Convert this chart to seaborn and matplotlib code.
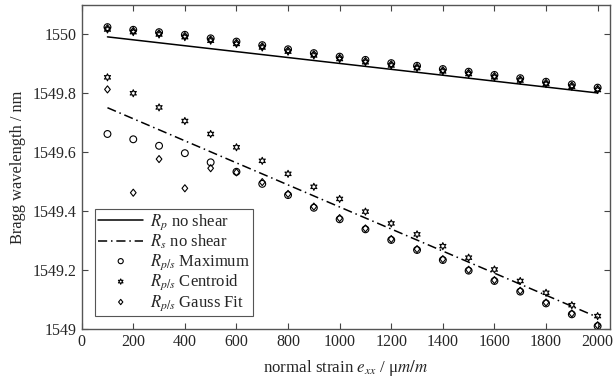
import matplotlib
matplotlib.use("Agg")
import matplotlib.pyplot as plt
import seaborn as sns
import numpy as np
from matplotlib.ticker import FuncFormatter
from matplotlib.path import Path

# ---- data ----
line_x = [100, 2000]
rp_line = [1549.99, 1549.80]
rs_line = [1549.75, 1549.04]

strain = [100, 200, 300, 400, 500, 600, 700, 800, 900, 1000,
          1100, 1200, 1300, 1400, 1500, 1600, 1700, 1800, 1900, 2000]

# p-polarisation (upper group)
p_max = [1550.023, 1550.014, 1550.006, 1549.997, 1549.985, 1549.974, 1549.962, 1549.948, 1549.935, 1549.923,
         1549.912, 1549.901, 1549.892, 1549.881, 1549.872, 1549.861, 1549.850, 1549.838, 1549.829, 1549.818]
p_cen = [1550.015, 1550.006, 1549.998, 1549.989, 1549.977, 1549.966, 1549.954, 1549.940, 1549.927, 1549.915,
         1549.904, 1549.893, 1549.884, 1549.873, 1549.864, 1549.853, 1549.842, 1549.830, 1549.821, 1549.810]
p_gau = [1550.019, 1550.010, 1550.002, 1549.993, 1549.981, 1549.970, 1549.958, 1549.944, 1549.931, 1549.919,
         1549.908, 1549.897, 1549.888, 1549.877, 1549.868, 1549.857, 1549.846, 1549.834, 1549.825, 1549.814]

# s-polarisation (lower group)
s_max = [1549.661, 1549.643, 1549.621, 1549.596, 1549.565, 1549.533, 1549.492, 1549.454, 1549.411, 1549.372,
         1549.338, 1549.302, 1549.268, 1549.234, 1549.198, 1549.163, 1549.127, 1549.087, 1549.050, 1549.010]
s_cen = [1549.853, 1549.799, 1549.751, 1549.705, 1549.661, 1549.616, 1549.570, 1549.526, 1549.482, 1549.441,
         1549.398, 1549.358, 1549.321, 1549.281, 1549.242, 1549.202, 1549.163, 1549.123, 1549.081, 1549.044]
s_gau = [1549.812, 1549.462, 1549.576, 1549.477, 1549.545, 1549.531, 1549.498, 1549.458, 1549.415, 1549.376,
         1549.341, 1549.305, 1549.271, 1549.237, 1549.201, 1549.166, 1549.130, 1549.090, 1549.053, 1549.013]

xticks = list(range(0, 2001, 200))
yticks = [1549.0, 1549.2, 1549.4, 1549.6, 1549.8, 1550.0]

# ---- style ----
sns.set_style("ticks")
plt.rcParams["font.family"] = ["Liberation Serif", "DejaVu Serif"]
plt.rcParams["mathtext.fontset"] = "stix"
plt.rcParams["font.size"] = 11

diamond = Path([(0, 1), (0.8, 0), (0, -1), (-0.8, 0), (0, 1)],
               [Path.MOVETO, Path.LINETO, Path.LINETO, Path.LINETO, Path.CLOSEPOLY])
star6 = (6, 1, 0)

fig = plt.figure(figsize=(6.14, 3.84), dpi=100)
ax = fig.add_axes([0.133, 0.143, 0.8605, 0.844])

lw = 1.1
sns.lineplot(x=line_x, y=rp_line, ax=ax, color="black", linewidth=lw,
             label=r"$R_p$ no shear")
sns.lineplot(x=line_x, y=rs_line, ax=ax, color="black", linewidth=lw,
             linestyle=(0, (6, 2.5, 1, 2.5)), label=r"$R_s$ no shear")

mk = dict(facecolor="none", edgecolor="black", linewidth=0.8, ax=ax)
sns.scatterplot(x=strain, y=p_max, marker="o", s=24, **mk, label=r"$R_{p/s}$ Maximum")
sns.scatterplot(x=strain, y=p_cen, marker=star6, s=26, **mk, label=r"$R_{p/s}$ Centroid")
sns.scatterplot(x=strain, y=p_gau, marker=diamond, s=26, **mk, label=r"$R_{p/s}$ Gauss Fit")
sns.scatterplot(x=strain, y=s_max, marker="o", s=24, **mk)
sns.scatterplot(x=strain, y=s_cen, marker=star6, s=26, **mk)
sns.scatterplot(x=strain, y=s_gau, marker=diamond, s=26, **mk)

ax.set_xlim(0, 2048)
ax.set_ylim(1549.0, 1550.098)
ax.set_xticks(xticks)
ax.set_yticks(yticks)
ax.yaxis.set_major_formatter(FuncFormatter(lambda v, p: f"{round(v, 1):g}"))
ax.tick_params(direction="in", top=True, right=True, length=4, width=0.8,
               color="#444444", labelsize=11.5)
for sp in ax.spines.values():
    sp.set_visible(True)
    sp.set_color("#555555")
    sp.set_linewidth(1.0)

ax.set_xlabel(r"normal strain $e_{xx}$ / μ$m/m$", fontsize=12.2, labelpad=6)
ax.set_ylabel("Bragg wavelength / nm", fontsize=11.8, labelpad=5)

leg = ax.legend(loc="lower left", bbox_to_anchor=(0.025, 0.04), borderaxespad=0,
                fancybox=False, frameon=True, edgecolor="#555555", framealpha=1,
                handlelength=2.7, handletextpad=0.4, labelspacing=0.05,
                borderpad=0.2, fontsize=12, markerscale=0.75)
leg.get_frame().set_linewidth(0.8)

fig.savefig("out.png", dpi=100)
